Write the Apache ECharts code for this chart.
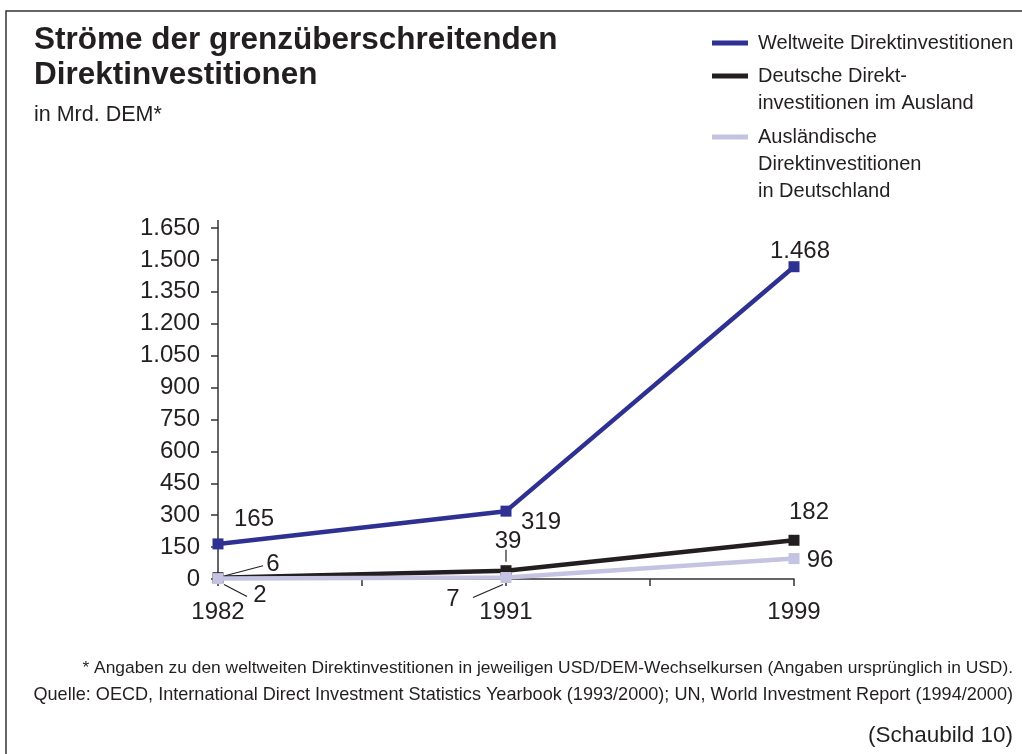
<!DOCTYPE html>
<html>
<head>
<meta charset="utf-8">
<title>Ströme der grenzüberschreitenden Direktinvestitionen</title>
<script src="https://cdn.jsdelivr.net/npm/echarts@6/dist/echarts.min.js"></script>
<style>
  html, body { margin: 0; padding: 0; background: #ffffff; }
  #chart { width: 1022px; height: 754px; }
</style>
</head>
<body>
<div id="chart"></div>
<script>
// Jahre (Kategorien der x-Achse)
const years = ['1982', '1991', '1999'];

// Werte in Mrd. DEM
const weltweit = [165, 319, 1468];
const deutscheImAusland = [6, 39, 182];
const auslaendischeInDeutschland = [2, 7, 96];

// Beschriftung der Reihen (Legende, zeilenweise)
const seriesNames = [
  'Weltweite Direktinvestitionen',
  'Deutsche Direktinvestitionen im Ausland',
  'Ausländische Direktinvestitionen in Deutschland'
];
const legendLines = [
  ['Weltweite Direktinvestitionen'],
  ['Deutsche Direkt-', 'investitionen im Ausland'],
  ['Ausländische', 'Direktinvestitionen', 'in Deutschland']
];

// y-Achse: 0 bis 1.650 in Schritten von 150
const yMin = 0, yMax = 1650, yStep = 150;

// Texte
const titleText = 'Ströme der grenzüberschreitenden\nDirektinvestitionen';
const unitText = 'in Mrd. DEM*';
const footnote = '* Angaben zu den weltweiten Direktinvestitionen in jeweiligen USD/DEM-Wechselkursen (Angaben ursprünglich in USD).';
const sourceText = 'Quelle: OECD, International Direct Investment Statistics Yearbook (1993/2000); UN, World Investment Report (1994/2000)';
const figureText = '(Schaubild 10)';

// ---- Darstellung ----
const seriesValues = [weltweit, deutscheImAusland, auslaendischeInDeutschland];
const colors = ['#2e3192', '#231f20', '#c5c3e2'];
const ink = '#231f20';
const font = "'Liberation Sans', Arial, sans-serif";

// Versatz der Wertbeschriftungen gegenüber dem Datenpunkt [dx, dy]
const labelOffsets = [
  [[36, -25], [35, 11], [6, -15]],
  [[55, -13], [2, -29], [15, -28]],
  [[42, 17], [-53, 22], [26, 2]]
];
// Hinweislinien zwischen Punkt und Beschriftung (relativ zum Punkt)
const leaderLines = [
  { s: 1, i: 0, from: [7, -2], to: [45, -12] },
  { s: 1, i: 1, from: [0, -9], to: [0, -21] },
  { s: 2, i: 0, from: [6, 6], to: [29, 18] },
  { s: 2, i: 1, from: [-3, 7], to: [-33, 20] }
];

const fmtDE = v => String(v).replace(/\B(?=(\d{3})+(?!\d))/g, '.');

const chart = echarts.init(document.getElementById('chart'), null, { renderer: 'canvas' });

const series = seriesValues.map((vals, s) => ({
  name: seriesNames[s],
  type: 'line',
  data: vals.map((v, i) => ({
    value: [i, v],
    label: { offset: labelOffsets[s][i] }
  })),
  symbol: 'rect',
  symbolSize: 11,
  lineStyle: { color: colors[s], width: 4.5 },
  itemStyle: { color: colors[s] },
  label: {
    show: true,
    position: 'inside',
    color: ink,
    fontFamily: font,
    fontSize: 24,
    formatter: p => fmtDE(p.value[1])
  },
  z: 2 + s
}));

const baseOption = {
  animation: false,
  backgroundColor: '#ffffff',
  textStyle: { fontFamily: font, color: ink },
  title: [
    {
      text: titleText,
      left: 34,
      top: 23,
      padding: 0,
      itemGap: 11,
      textStyle: { fontFamily: font, fontSize: 31.5, fontWeight: 'bold', color: ink, lineHeight: 35 },
      subtext: unitText,
      subtextStyle: { fontFamily: font, fontSize: 21.5, color: ink, lineHeight: 22 }
    },
    {
      text: footnote,
      right: 9,
      top: 660,
      padding: 0,
      textStyle: { fontFamily: font, fontSize: 17.4, fontWeight: 'normal', color: ink }
    },
    {
      text: sourceText,
      right: 9,
      top: 686,
      padding: 0,
      textStyle: { fontFamily: font, fontSize: 18.1, fontWeight: 'normal', color: ink }
    },
    {
      text: figureText,
      right: 9,
      top: 724,
      padding: 0,
      textStyle: { fontFamily: font, fontSize: 22.5, fontWeight: 'normal', color: ink }
    }
  ],
  grid: { left: 218, right: 228, top: 228, bottom: 175, containLabel: false },
  xAxis: {
    type: 'value',
    min: 0,
    max: years.length - 1,
    interval: 0.5,
    splitLine: { show: false },
    axisLine: { show: true, lineStyle: { color: '#333333', width: 1.5 } },
    axisTick: { show: true, length: 7, lineStyle: { color: '#333333', width: 1.5 } },
    axisLabel: {
      margin: 21,
      fontFamily: font,
      fontSize: 24,
      color: ink,
      formatter: v => (Number.isInteger(v) ? years[v] : '')
    }
  },
  yAxis: {
    type: 'value',
    min: yMin,
    max: yMax,
    interval: yStep,
    splitLine: { show: false },
    axisLine: { show: true, lineStyle: { color: '#333333', width: 1.5 } },
    axisTick: { show: true, length: 7, lineStyle: { color: '#333333', width: 1.5 } },
    axisLabel: {
      margin: 18,
      fontFamily: font,
      fontSize: 24,
      color: ink,
      formatter: v => fmtDE(v)
    }
  },
  series: series
};

chart.setOption(baseOption);

// Rahmen, Legende und Hinweislinien als Grafikelemente
const graphics = [];

// Rahmen (oben und links)
graphics.push({
  type: 'polyline',
  silent: true,
  shape: { points: [[1022, 11], [6, 11], [6, 754]] },
  style: { stroke: '#333333', lineWidth: 1.5, fill: null }
});

// Verlängerung der y-Achse über den obersten Teilstrich hinaus
const yTop = chart.convertToPixel({ gridIndex: 0 }, [0, yMax]);
graphics.push({
  type: 'line',
  silent: true,
  shape: { x1: yTop[0], y1: yTop[1], x2: yTop[0], y2: yTop[1] - 8 },
  style: { stroke: '#333333', lineWidth: 1.5 }
});

// Legende
const legendRowTop = [43, 76, 137];
const legendLineGap = 27.3;
legendLines.forEach((lines, s) => {
  const y = legendRowTop[s];
  graphics.push({
    type: 'line',
    silent: true,
    shape: { x1: 712, y1: y, x2: 748, y2: y },
    style: { stroke: colors[s], lineWidth: 5 }
  });
  lines.forEach((t, k) => {
    graphics.push({
      type: 'text',
      silent: true,
      x: 758,
      y: y + k * legendLineGap,
      style: {
        text: t,
        fill: ink,
        font: '20px ' + font,
        textAlign: 'left',
        textVerticalAlign: 'middle',
        verticalAlign: 'middle'
      }
    });
  });
});

// Hinweislinien an den kleinen Werten
leaderLines.forEach(l => {
  const p = chart.convertToPixel({ seriesIndex: l.s }, [l.i, seriesValues[l.s][l.i]]);
  graphics.push({
    type: 'line',
    silent: true,
    z: 10,
    shape: { x1: p[0] + l.from[0], y1: p[1] + l.from[1], x2: p[0] + l.to[0], y2: p[1] + l.to[1] },
    style: { stroke: ink, lineWidth: 1.2 }
  });
});

chart.setOption({ graphic: graphics });
</script>
</body>
</html>
